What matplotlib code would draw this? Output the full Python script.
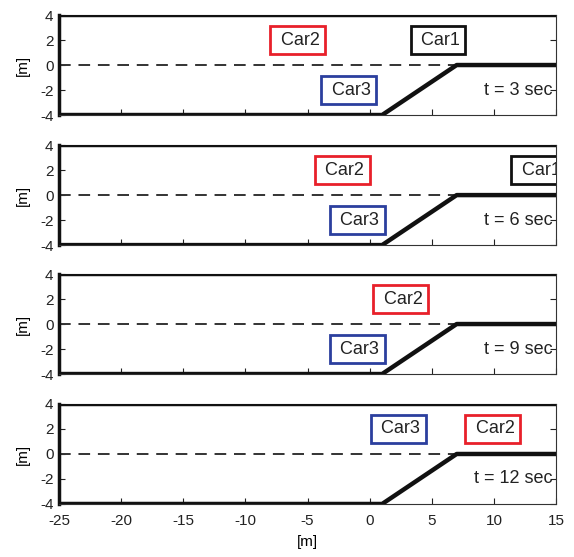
import matplotlib
matplotlib.use("Agg")
import matplotlib.pyplot as plt

plt.rcParams["font.family"] = ["Liberation Sans", "DejaVu Sans"]
plt.rcParams["axes.unicode_minus"] = False

# road geometry
top_x = [-25, 15]
top_y = [4, 4]
low_x = [-25, 1, 7, 15]
low_y = [-4, -4, 0, 0]
mid_x = [-25, 7]
mid_y = [0, 0]

times = [3, 6, 9, 12]
# car label positions per snapshot: (name, x, y)
cars = [
    [("Car2", -5.8, 2), ("Car1", 5.5, 2), ("Car3", -1.7, -2)],
    [("Car2", -2.2, 2), ("Car1", 13.6, 2), ("Car3", -1.0, -2)],
    [("Car2", 2.5, 2), ("Car3", -1.0, -2)],
    [("Car3", 2.3, 2), ("Car2", 9.9, 2)],
]
car_colors = {"Car1": "#111111", "Car2": "#e8202a", "Car3": "#2b3f9e"}

xticks = [-25, -20, -15, -10, -5, 0, 5, 10, 15]
yticks = [-4, -2, 0, 2, 4]

fig = plt.figure(figsize=(5.74, 5.57), dpi=100)
bottoms = [0.7935, 0.560, 0.3285, 0.0952]

for i, (t, bot) in enumerate(zip(times, bottoms)):
    ax = fig.add_axes([0.1028, bot, 0.866, 0.1795])
    ax.plot(top_x, top_y, color="#111111", lw=3.2, solid_capstyle="butt", zorder=3)
    ax.plot(low_x, low_y, color="#111111", lw=3.2, solid_capstyle="butt", zorder=3)
    ax.plot(mid_x, mid_y, color="#333333", lw=1.4, ls=(0, (6, 4)), zorder=2)

    for name, cx, cy in cars[i]:
        ax.text(cx, cy, " " + name, color="#222222", fontsize=13,
                ha="center", va="center", clip_on=True, zorder=4,
                bbox=dict(boxstyle="square,pad=0.3", fc="white",
                          ec=car_colors[name], lw=2))

    ax.text(14.7, -2, f"t = {t} sec", fontsize=13, color="#222222",
            ha="right", va="center", zorder=4)

    ax.set_xlim(-25, 15)
    ax.set_ylim(-4, 4)
    ax.set_xticks(xticks)
    ax.set_yticks(yticks)
    ax.tick_params(direction="in", length=4, labelsize=11, colors="#222222",
                   top=False, right=True, pad=4)
    for s in ax.spines.values():
        s.set_linewidth(0.8)
        s.set_color("#333333")
    ax.spines["left"].set_linewidth(2.5)
    ax.spines["left"].set_color("#111111")
    ax.set_ylabel("[m]", fontsize=11, labelpad=7)
    if i < 3:
        ax.set_xticklabels([])
    else:
        ax.tick_params(axis="x", pad=7)
        ax.set_xlabel("[m]", fontsize=11, labelpad=5)

fig.savefig("out.png", dpi=100, facecolor="white")
